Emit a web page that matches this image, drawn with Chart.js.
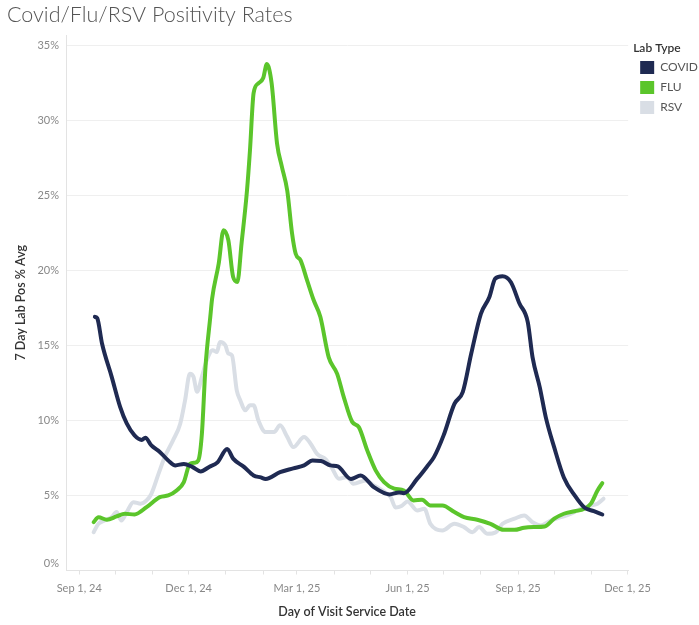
<!DOCTYPE html>
<html>
<head>
<meta charset="utf-8">
<title>Covid/Flu/RSV Positivity Rates</title>
<script src="https://cdn.jsdelivr.net/npm/chart.js@4.4.1/dist/chart.umd.min.js"></script>
<style>
  html, body { margin: 0; padding: 0; background: #fff; }
</style>
</head>
<body>
<canvas id="lineChart" width="699" height="625"></canvas>
<script>
// days counted from Sep 1, 2024
var covidDays = [13, 15, 19, 27, 34, 39.5, 46, 52, 55, 60, 67, 74, 80, 87, 94, 101, 108, 115, 123, 128, 137,
    145, 151, 155, 167, 178, 187, 194, 201, 209, 215, 226, 234, 245, 258, 266, 270, 281, 289, 295, 303,
    312, 319, 326, 334, 341, 346, 352, 359, 366, 373, 377, 383, 388, 395, 403, 412, 420, 428, 435];
var covidPct = [16.9, 16.8, 15.1, 12.9, 10.9, 9.8, 9.0, 8.7, 8.85, 8.33, 7.9, 7.33, 7.0, 7.1, 6.9, 6.6, 6.9, 7.2, 8.1, 7.45, 6.9,
    6.33, 6.2, 6.1, 6.55, 6.8, 7.0, 7.33, 7.3, 7.0, 6.93, 6.1, 6.33, 5.55, 5.07, 5.2, 5.15, 6.1, 6.9, 7.55, 9.0,
    11.1, 11.9, 14.45, 17.1, 18.2, 19.45, 19.6, 19.2, 17.8, 16.55, 14.2, 12.2, 10.2, 8.2, 6.2, 5.0, 4.2, 3.95, 3.73];

var fluDays = [12, 16, 23, 31, 38, 46, 56, 67, 74, 81, 87, 92, 96, 99, 102, 105, 109, 110.5, 116, 120,
    124, 128, 131.5, 135, 139.5, 142, 145, 149, 153, 156, 160, 164.5, 168.5, 173, 177, 180, 184, 189.5, 195, 200.5,
    207.5, 214.5, 220, 227, 232.5, 239.5, 246.5, 253.5, 262, 270, 278, 285, 292, 302, 312, 320, 331, 342, 353, 362,
    370, 378, 387, 395, 403, 412, 420, 425.5, 431, 435];
var fluPct = [3.22, 3.55, 3.38, 3.6, 3.78, 3.73, 4.22, 4.89, 5.0, 5.33, 5.89, 7.1, 7.18, 7.33, 9.1, 13.55, 16.9, 18.1, 20.45, 22.67,
    22.0, 19.55, 19.22, 21.8, 25.3, 28.0, 31.8, 32.45, 32.8, 33.73, 32.45, 28.45, 26.9, 25.3, 22.45, 21.1, 20.67, 19.33, 18.0, 16.9,
    14.2, 13.1, 11.55, 9.9, 9.55, 8.0, 6.67, 5.89, 5.45, 5.33, 4.67, 4.71, 4.33, 4.33, 3.89, 3.55, 3.38, 3.11, 2.71, 2.71,
    2.85, 2.89, 2.93, 3.45, 3.78, 3.95, 4.11, 4.45, 5.33, 5.82];

var rsvDays = [12, 16, 21, 27, 31, 35, 39.5, 45, 51, 56, 60, 66, 71, 78, 84, 88, 92, 95, 98, 102,
    106, 111, 114.5, 117, 121.5, 124, 127, 131, 134, 138, 142, 145, 149, 155, 162, 167, 173, 178, 187, 192,
    198, 205, 210, 216, 223, 228, 238, 245, 252, 259, 263, 268, 273, 281, 287, 292, 302, 312, 320, 327,
    332.5, 339.5, 346.5, 352, 362, 370, 377, 384, 392, 400.5, 409, 417, 425.5, 431, 436];
var rsvPct = [2.55, 3.11, 3.33, 3.55, 3.89, 3.33, 3.89, 4.55, 4.45, 4.67, 5.11, 6.45, 7.55, 8.67, 9.78, 11.33, 13.1, 12.9, 11.9, 12.9,
    14.0, 14.67, 14.55, 15.22, 15.0, 14.45, 14.33, 12.0, 11.33, 10.67, 11.0, 11.0, 10.0, 9.22, 9.22, 9.67, 8.9, 8.22, 8.89, 8.5,
    7.75, 7.4, 6.85, 6.11, 6.22, 5.78, 6.0, 5.67, 5.33, 4.89, 4.2, 4.3, 4.6, 4.0, 4.11, 3.11, 2.67, 3.11, 2.89, 2.55,
    2.89, 2.44, 2.55, 3.11, 3.45, 3.67, 3.22, 3.0, 3.33, 3.55, 3.78, 4.11, 4.33, 4.45, 4.78];

// x axis: first of every month, labels on the quarter months
var monthDays = [0, 30, 61, 91, 122, 153, 181, 212, 242, 273, 303, 334, 365, 395, 426, 456];
var tickDays = [0, 91, 181, 273, 365, 456];
var tickLabels = ['Sep 1, 24', 'Dec 1, 24', 'Mar 1, 25', 'Jun 1, 25', 'Sep 1, 25', 'Dec 1, 25'];
var yTicks = [0, 5, 10, 15, 20, 25, 30, 35];

var labTypes = ['COVID', 'FLU', 'RSV'];
var colors = ['#1f2a52', '#5bc52b', '#d9dee5'];

function points(days, vals) {
    return days.map(function (d, i) { return {x: d, y: vals[i]}; });
}

var series = [points(covidDays, covidPct), points(fluDays, fluPct), points(rsvDays, rsvPct)];

Chart.defaults.font.family = 'Lato, "Open Sans", sans-serif';

var ctx = document.getElementById('lineChart').getContext('2d');
var myChart = new Chart(ctx, {
    type: 'line',
    data: {
        datasets: labTypes.map(function (name, i) {
            return {
                label: name,
                data: series[i],
                borderColor: colors[i],
                backgroundColor: colors[i],
                borderWidth: 4,
                pointRadius: 0,
                cubicInterpolationMode: 'monotone',
                borderJoinStyle: 'round',
                borderCapStyle: 'round'
            };
        })
    },
    options: {
        responsive: false,
        animation: false,
        layout: {padding: {left: 7, right: -9, top: 0, bottom: 0}},
        plugins: {
            tooltip: {enabled: false},
            title: {
                display: true,
                text: 'Covid/Flu/RSV Positivity Rates',
                align: 'start',
                color: '#555',
                font: {size: 21.5, weight: 300},
                padding: {top: 2, bottom: 7.2}
            },
            legend: {
                position: 'right',
                align: 'start',
                fullSize: false,
                title: {
                    display: true,
                    text: 'Lab Type',
                    position: 'start',
                    color: '#333',
                    font: {size: 12, weight: 600, lineHeight: 1},
                    padding: {top: 7, bottom: 0}
                },
                labels: {
                    boxWidth: 14,
                    boxHeight: 13,
                    padding: 7,
                    color: '#555',
                    font: {size: 12},
                    generateLabels: function (chart) {
                        return Chart.defaults.plugins.legend.labels.generateLabels(chart).map(function (item) {
                            item.lineWidth = 0;
                            return item;
                        });
                    }
                }
            }
        },
        scales: {
            x: {
                type: 'linear',
                min: -11,
                max: 456.5,
                afterBuildTicks: function (axis) {
                    axis.ticks = monthDays.map(function (d) { return {value: d}; });
                },
                afterFit: function (axis) { axis.height = 54.5; },
                ticks: {
                    autoSkip: false,
                    maxRotation: 0,
                    color: '#888',
                    font: {size: 11},
                    padding: 7,
                    callback: function (value) {
                        var k = tickDays.indexOf(value);
                        return k >= 0 ? tickLabels[k] : '';
                    }
                },
                grid: {
                    drawOnChartArea: false,
                    drawTicks: true,
                    tickLength: 4,
                    tickColor: '#e3e3e3'
                },
                border: {color: '#e3e3e3'},
                title: {
                    display: true,
                    text: 'Day of Visit Service Date',
                    color: '#333',
                    font: {size: 12.5, weight: 600},
                    padding: {top: 0, bottom: 5.5}
                }
            },
            y: {
                min: 0,
                max: 35.67,
                afterBuildTicks: function (axis) {
                    axis.ticks = yTicks.map(function (v) { return {value: v}; });
                },
                afterFit: function (axis) { axis.width = 59; },
                ticks: {
                    color: '#888',
                    font: {size: 11},
                    padding: 7,
                    callback: function (value) {
                        return value === 0 ? ['0%', ''] : value + '%';
                    }
                },
                grid: {color: '#efefef', drawTicks: false},
                border: {color: '#e3e3e3'},
                title: {
                    display: true,
                    text: '7 Day Lab Pos % Avg',
                    color: '#333',
                    font: {size: 12.5, weight: 600},
                    padding: {top: 6.5, bottom: 0}
                }
            },
            gap: {
                type: 'linear',
                axis: 'y',
                position: 'right',
                display: true,
                grid: {display: false},
                border: {display: false},
                ticks: {display: false},
                afterFit: function (axis) { axis.width = 5; }
            }
        }
    }
});
</script>
</body>
</html>
